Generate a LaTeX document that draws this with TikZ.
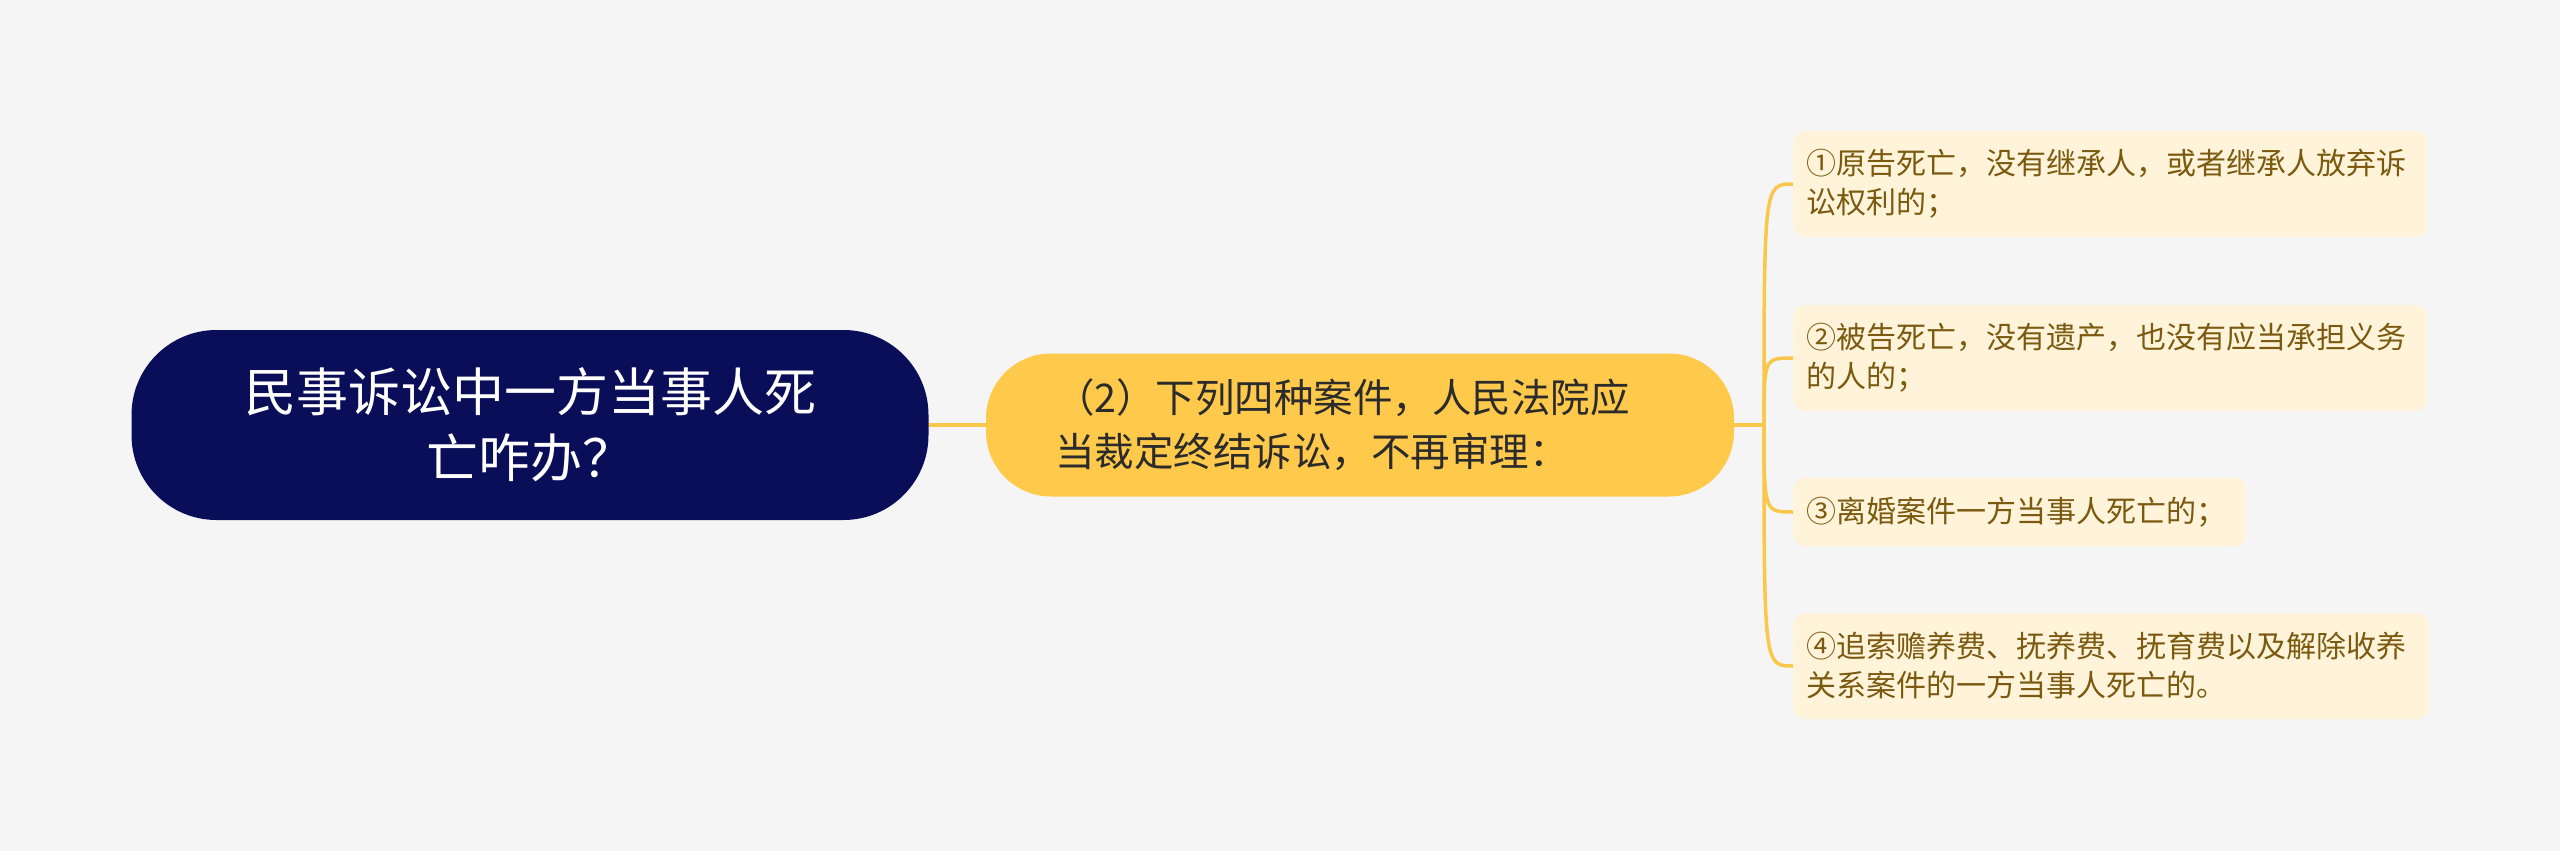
\documentclass[tikz,border=0pt]{standalone}
\usepackage{fontspec}
\setmainfont{Noto Sans CJK SC}
\usepackage{tikz}

\definecolor{bgcolor}{HTML}{F5F5F5}
\definecolor{rootblue}{HTML}{0A0E58}
\definecolor{gold}{HTML}{FFC94B}
\definecolor{cream}{HTML}{FFF4DA}
\definecolor{leaftext}{HTML}{7B5A10}
\definecolor{linegold}{HTML}{F9C84B}
\definecolor{ink}{HTML}{2B2B2B}

\begin{document}
\begin{tikzpicture}[x=1pt, y=-1pt,
    rootbox/.style={fill=rootblue, text=white, rounded corners=85pt, minimum width=797pt, minimum height=190pt, align=center, font=\fontsize{52}{66}\selectfont},
    branchbox/.style={fill=gold, text=ink, rounded corners=65pt, text width=610pt, inner xsep=69pt, minimum height=143pt, align=left, font=\fontsize{39.5}{54}\selectfont},
    leafbox/.style={fill=cream, text=leaftext, rounded corners=12pt, inner xsep=13pt, align=left, anchor=west, font=\fontsize{30}{39}\selectfont},
    link/.style={draw=linegold, line width=3.5pt}]
    % Background
    \fill[bgcolor] (0,0) rectangle (2560,851);

    % Main topic and branch
    \node[rootbox] (root) at (530,425) {民事诉讼中一方当事人死\\亡咋办？};
    \node[branchbox] (rule) at (1360,425) {（2）下列四种案件，人民法院应\\当裁定终结诉讼，不再审理：};

    % The four cases
    \node[leafbox, text width=608pt, minimum height=106pt] (item1) at (1793,184) {①原告死亡，没有继承人，或者继承人放弃诉\\讼权利的；};
    \node[leafbox, text width=608pt, minimum height=106pt] (item2) at (1793,358) {②被告死亡，没有遗产，也没有应当承担义务\\的人的；};
    \node[leafbox, text width=427pt, minimum height=69pt] (item3) at (1793,512) {③离婚案件一方当事人死亡的；};
    \node[leafbox, text width=610pt, minimum height=106pt] (item4) at (1793,666) {④追索赡养费、抚养费、抚育费以及解除收养\\关系案件的一方当事人死亡的。};

    % Connectors
    \coordinate (fork) at (1764,425);
    \draw[link] (root) -- (rule);
    \draw[link] (rule.east) -- (fork);
    \foreach \i in {1,...,4}
        \draw[link] (fork) .. controls (fork |- item\i.west) .. (item\i.west);
\end{tikzpicture}
\end{document}
